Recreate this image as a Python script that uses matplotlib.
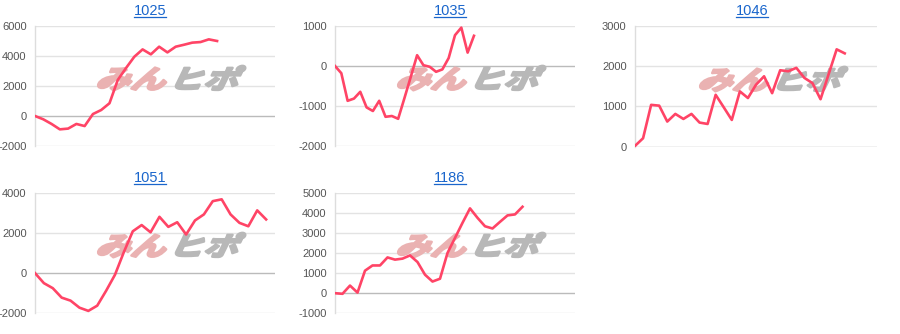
import matplotlib
matplotlib.use("Agg")
import matplotlib.pyplot as plt
import matplotlib.transforms as mtransforms
from matplotlib.textpath import TextPath
from matplotlib.patches import PathPatch
from matplotlib.font_manager import FontProperties
from matplotlib.lines import Line2D

plt.rcParams['font.family'] = ['Liberation Sans', 'DejaVu Sans']

# 台番号ごとの差枚推移
titles = ['1025', '1035', '1046', '1051', '1186']
s1025 = [0, -220, -530, -890, -840, -530, -670, 130, 400, 850, 2400, 3200, 3950, 4440,
         4110, 4620, 4240, 4620, 4750, 4890, 4930, 5110, 5000]
s1035 = [0, -180, -870, -815, -645, -1035, -1125, -870, -1270, -1250, -1320, -800,
         -270, 270, 20, -20, -145, -85, 200, 770, 960, 335, 755]
s1046 = [20, 210, 1040, 1020, 625, 815, 690, 815, 600, 565, 1290, 980, 665, 1375,
         1210, 1540, 1750, 1330, 1900, 1875, 1960, 1710, 1580, 1180, 1800, 2420, 2320]
s1051 = [0, -500, -750, -1220, -1370, -1720, -1880, -1620, -880, -80, 1050, 2080,
         2390, 2030, 2800, 2300, 2530, 1920, 2620, 2920, 3580, 3670, 2920, 2500, 2330,
         3120, 2670]
s1186 = [0, -30, 380, 30, 1120, 1380, 1380, 1780, 1670, 1720, 1880, 1550, 920, 580,
         720, 2000, 2750, 3500, 4220, 3750, 3330, 3220, 3550, 3870, 3920, 4300]
series = [s1025, s1035, s1046, s1051, s1186]
yticks = [[-2000, 0, 2000, 4000, 6000],
          [-2000, -1000, 0, 1000],
          [0, 1000, 2000, 3000],
          [-2000, 0, 2000, 4000],
          [-1000, 0, 1000, 2000, 3000, 4000, 5000]]
xmax = [29, 38, 30, 27, 32]

W, H = 900, 334
fig = plt.figure(figsize=(W / 100, H / 100), dpi=100)
fig.patch.set_facecolor('white')
pix = mtransforms.Affine2D().scale(1 / W, 1 / H) + fig.transFigure

# 各パネルの位置 (px): left, right, top, bottom
boxes = [(35, 275, 26, 146), (335, 575, 26, 146), (635, 877, 26, 146.7),
         (35, 275, 192.7, 313.3), (335, 575, 192.7, 313.3)]
centers = [150, 450, 752, 150, 450]
title_y = [15, 15, 15, 182, 182]
wm_pos = [(165, 78), (465, 78), (767, 79), (165, 245), (465, 245)]

fp = FontProperties(family='Noto Sans CJK JP', weight='bold')


def watermark(ax, cx, cy):
    # ロゴ風の透かし (斜体にするためskew、縁取りで太く)
    p1 = TextPath((0, 0), 'みん', size=1, prop=fp)
    p2 = TextPath((0, 0), 'ヒポ', size=1, prop=fp)
    w1 = p1.get_extents().x1
    w2 = p2.get_extents().x1
    sx, sy = 35, 26
    gap = 0.12
    total = (w1 + w2 + gap) * sx
    x0 = cx - total / 2
    y0 = (H - cy) - 0.40 * sy
    base = mtransforms.Affine2D().skew_deg(20, 0).scale(sx, sy)
    t1 = base + mtransforms.Affine2D().translate(x0, y0) + pix
    t2 = base + mtransforms.Affine2D().translate(x0 + (w1 + gap) * sx, y0) + pix
    ax.add_patch(PathPatch(p1, transform=t1, fc='#eab2b2', ec='#eab2b2', lw=1.8,
                           zorder=1, clip_on=False, joinstyle='round'))
    ax.add_patch(PathPatch(p2, transform=t2, fc='#b8b8b8', ec='#b8b8b8', lw=1.8,
                           zorder=1, clip_on=False, joinstyle='round'))


for i in range(5):
    l, r, t, b = boxes[i]
    ax = fig.add_axes([l / W, 1 - b / H, (r - l) / W, (b - t) / H])
    ys = series[i]
    ax.plot(range(len(ys)), ys, color='#ff4466', lw=1.9, zorder=3,
            solid_joinstyle='round')
    ax.set_xlim(0, xmax[i])
    ax.set_ylim(yticks[i][0], yticks[i][-1])
    ax.set_yticks(yticks[i])
    ax.set_yticklabels([str(v) for v in yticks[i]])
    ax.set_xticks([])
    ax.tick_params(axis='y', length=0, pad=6, labelsize=8, labelcolor='#555555')
    for v in yticks[i]:
        ax.axhline(v, color='#bbbbbb' if v == 0 else '#e3e3e3', lw=1, zorder=0)
    for s in ['top', 'right', 'bottom']:
        ax.spines[s].set_visible(False)
    ax.spines['left'].set_color('#dddddd')
    ax.spines['left'].set_linewidth(1)
    ax.patch.set_alpha(0)
    watermark(ax, *wm_pos[i])

    # タイトル (下線付きリンク風)
    txt = fig.text(centers[i] / W, 1 - title_y[i] / H, titles[i], ha='center',
                   va='baseline', fontsize=10.5, color='#1a66cc')
    fig.canvas.draw()
    bb = txt.get_window_extent()
    uy = (H - title_y[i] - 1.5)
    fig.add_artist(Line2D([bb.x0, bb.x1], [uy, uy], color='#1a66cc', lw=0.9,
                          transform=pix))

fig.savefig('out.png', dpi=100)
